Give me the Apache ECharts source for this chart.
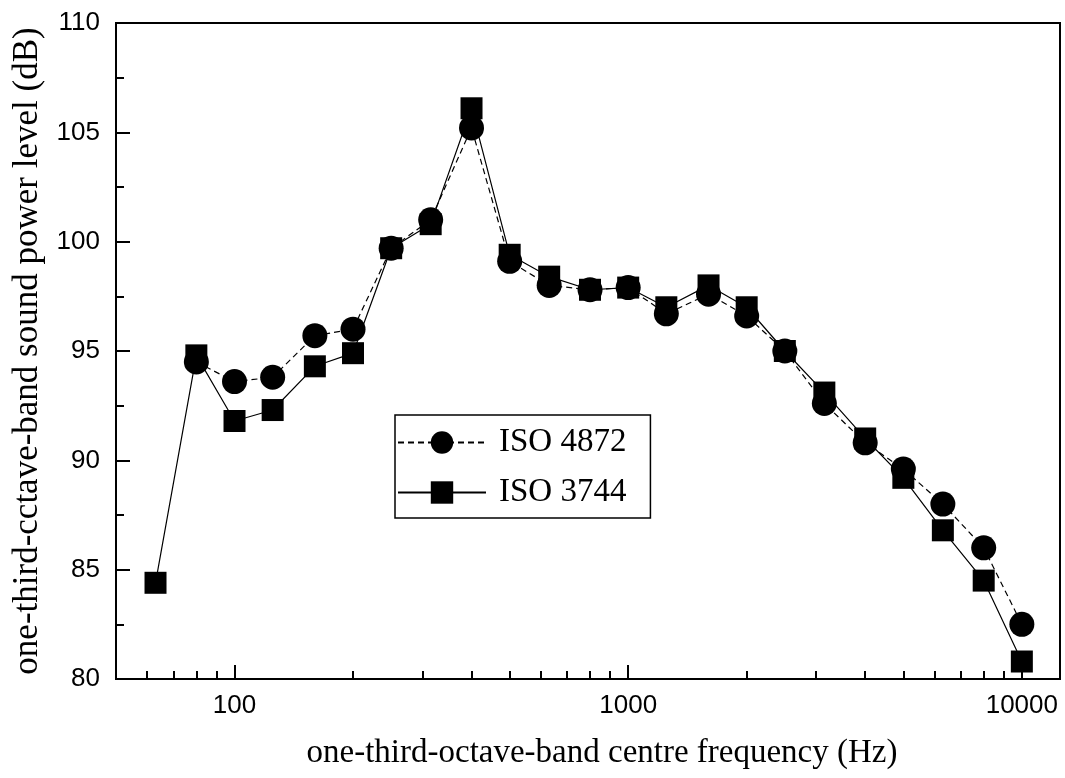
<!DOCTYPE html>
<html>
<head>
<meta charset="utf-8">
<script src="https://cdn.jsdelivr.net/npm/echarts@6/dist/echarts.min.js"></script>
<style>
html,body{margin:0;padding:0;background:#fff;}
#chart{width:1065px;height:778px;}
</style>
</head>
<body>
<div id="chart"></div>
<script>
// ---- data ----
const freqs4872 = [80,100,125,160,200,250,315,400,500,630,800,1000,1250,1600,2000,2500,3150,4000,5000,6300,8000,10000];
const iso4872   = [94.5,93.6,93.8,95.7,96.0,99.7,101.0,105.2,99.1,98.0,97.8,97.9,96.7,97.6,96.6,95.0,92.6,90.8,89.6,88.0,86.0,82.5];
const freqs3744 = [63,80,100,125,160,200,250,315,400,500,630,800,1000,1250,1600,2000,2500,3150,4000,5000,6300,8000,10000];
const iso3744   = [84.4,94.8,91.8,92.3,94.3,94.9,99.7,100.8,106.1,99.4,98.4,97.8,97.9,97.0,98.0,97.0,95.0,93.1,91.0,89.2,86.8,84.5,80.8];
const xMajorTicks = [100,1000,10000];
const xMinorTicks = [60,70,80,90,200,300,400,500,600,700,800,900,2000,3000,4000,5000,6000,7000,8000,9000];
const seriesNames = ['ISO 4872','ISO 3744'];
const xTitle = 'one-third-octave-band centre frequency (Hz)';
const yTitle = 'one-third-cctave-band sound power level (dB)';

const serif = '"Liberation Serif", "DejaVu Serif", serif';
const sans = '"Liberation Sans", Arial, sans-serif';
const black = '#000';

const chart = echarts.init(document.getElementById('chart'), null, {renderer:'canvas'});
const option = {
  animation: false,
  backgroundColor: '#fff',
  grid: {left:116, top:23, right:5, bottom:99, containLabel:false, show:true, borderColor:black, borderWidth:2, backgroundColor:'transparent'},
  legend: {
    orient:'vertical', left:395, top:415,
    borderColor:black, borderWidth:1.5, padding:[11,24,9,2],
    itemWidth:88, itemHeight:28, itemGap:17,
    textStyle:{fontFamily:serif, fontSize:33, color:black, padding:[0,0,0,8]},
    data: seriesNames
  },
  xAxis: [
    {
      type:'log', logBase:10, min:50, max:12500,
      name:xTitle, nameLocation:'middle', nameGap:58,
      nameTextStyle:{fontFamily:serif, fontSize:33, color:black, padding:[0,0,0,28]},
      axisLine:{show:true, lineStyle:{color:black, width:2}},
      axisTick:{show:true, inside:true, length:14, lineStyle:{color:black, width:2}, customValues:xMajorTicks},
      axisLabel:{show:true, margin:14, fontFamily:sans, fontSize:26, color:black, customValues:xMajorTicks,
                 formatter:function(v){return String(Math.round(v));}},
      splitLine:{show:false}, minorTick:{show:false}, minorSplitLine:{show:false}
    },
    {
      type:'log', logBase:10, min:50, max:12500, position:'bottom',
      axisLine:{show:false},
      axisTick:{show:true, inside:true, length:8, lineStyle:{color:black, width:2}, customValues:xMinorTicks},
      axisLabel:{show:false},
      splitLine:{show:false}
    }
  ],
  yAxis: {
    type:'value', min:80, max:110, interval:5,
    name:yTitle, nameLocation:'middle', nameGap:66, nameRotate:90,
    nameTextStyle:{fontFamily:serif, fontSize:35, color:black},
    axisLine:{show:true, lineStyle:{color:black, width:2}},
    axisTick:{show:true, inside:true, length:14, lineStyle:{color:black, width:2}},
    minorTick:{show:true, splitNumber:2, length:8, lineStyle:{color:black, width:2}},
    axisLabel:{margin:16, fontFamily:sans, fontSize:26, color:black},
    splitLine:{show:false}
  },
  series: [
    {
      name:seriesNames[0], type:'line', xAxisIndex:0,
      data: freqs4872.map((f,i)=>[f, iso4872[i]]),
      symbol:'circle', symbolSize:25,
      lineStyle:{color:black, width:1.2, type:[6,4]},
      itemStyle:{color:black},
      z:2
    },
    {
      name:seriesNames[1], type:'line', xAxisIndex:0,
      data: freqs3744.map((f,i)=>[f, iso3744[i]]),
      symbol:'rect', symbolSize:22,
      lineStyle:{color:black, width:1.2, type:'solid'},
      itemStyle:{color:black},
      z:3
    }
  ]
};
chart.setOption(option);
</script>
</body>
</html>
